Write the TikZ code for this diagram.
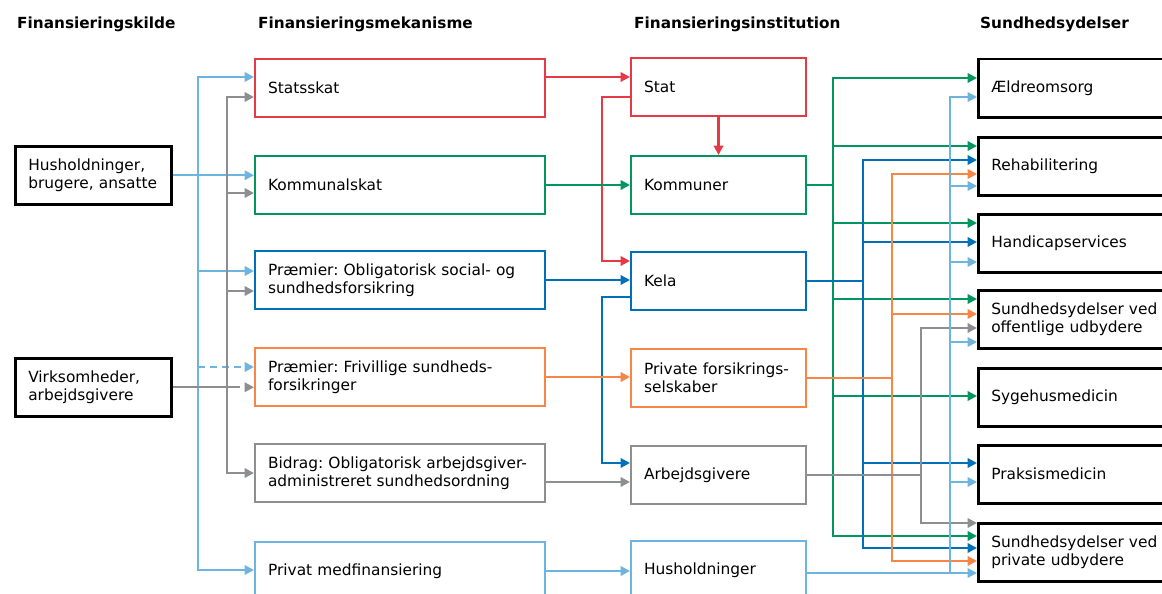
\documentclass[tikz,border=0pt]{standalone}
\usepackage{fontspec}
\setmainfont{DejaVu Sans}
\usetikzlibrary{arrows.meta}
\definecolor{cRed}{RGB}{230,57,70}
\definecolor{cGreen}{RGB}{0,150,94}
\definecolor{cBlue}{RGB}{0,112,184}
\definecolor{cOrange}{RGB}{246,133,70}
\definecolor{cGray}{RGB}{140,142,145}
\definecolor{cLight}{RGB}{110,180,225}
\newcommand\bodyfont{\fontsize{15.4}{17.7}\selectfont}
\newcommand\hdrfont{\fontsize{15.3}{17.7}\selectfont\bfseries}
\frenchspacing
\begin{document}
\begin{tikzpicture}[x=1pt,y=-1pt,
  box/.style={draw, rectangle, line width=2pt, anchor=north west, inner xsep=13pt, inner ysep=0pt,
    minimum height=58pt, align=left, font=\bodyfont},
  blackbox/.style={box, draw=black, line width=2.5pt},
  cA/.style={text width=130pt},
  cB/.style={text width=264pt},
  cC/.style={text width=149pt},
  cD/.style={text width=200pt},
  hdr/.style={anchor=base west, inner sep=0pt, font=\hdrfont},
  line/.style={line width=2.2pt},
  conn/.style={line width=2.2pt, -{Triangle[length=9.5pt,width=9.5pt]}},
  dsh/.style={dash pattern=on 7pt off 5pt}
]
\useasboundingbox (0,0) rectangle (1162,594);
\clip (0,0) rectangle (1162,594);

% headers
\node[hdr] (h1) at (17,29) {Finansieringskilde};
\node[hdr] (h2) at (258,29) {Finansieringsmekanisme};
\node[hdr] (h3) at (634,29) {Finansieringsinstitution};
\node[hdr] (h4) at (980,29) {Sundhedsydelser};

% column 1
\node[blackbox, cA] (hush) at (14,145) {\mbox{Husholdninger,}\\\mbox{brugere, ansatte}};
\node[blackbox, cA] (virk) at (14,357) {\mbox{Virksomheder,}\\\mbox{arbejdsgivere}};

% column 2
\node[box, cB, draw=cRed] (statsskat) at (254,58) {Statsskat};
\node[box, cB, draw=cGreen] (komskat) at (254,155) {Kommunalskat};
\node[box, cB, draw=cBlue] (praemob) at (254,250) {\mbox{Præmier: Obligatorisk social- og}\\\mbox{sundhedsforsikring}};
\node[box, cB, draw=cOrange] (praemfr) at (254,347) {\mbox{Præmier: Frivillige sundheds-}\\\mbox{forsikringer}};
\node[box, cB, draw=cGray] (bidrag) at (254,443) {\mbox{Bidrag: Obligatorisk arbejdsgiver-}\\\mbox{administreret sundhedsordning}};
\node[box, cB, draw=cLight] (privmed) at (254,541) {Privat medfinansiering};

% column 3
\node[box, cC, draw=cRed] (stat) at (630,57) {Stat};
\node[box, cC, draw=cGreen] (kommuner) at (630,155) {Kommuner};
\node[box, cC, draw=cBlue] (kela) at (630,251) {Kela};
\node[box, cC, draw=cOrange] (privfs) at (630,348) {\mbox{Private forsikrings-}\\\mbox{selskaber}};
\node[box, cC, draw=cGray] (arbg) at (630,445) {Arbejdsgivere};
\node[box, cC, draw=cLight] (hush2) at (630,540) {Husholdninger};

% column 4
\node[blackbox, cD] (aeld) at (977,58) {Ældreomsorg};
\node[blackbox, cD] (rehab) at (977,136) {Rehabilitering};
\node[blackbox, cD] (handi) at (977,213) {Handicapservices};
\node[blackbox, cD] (offud) at (977,289) {\mbox{Sundhedsydelser ved}\\\mbox{offentlige udbydere}};
\node[blackbox, cD] (sygeh) at (977,367) {Sygehusmedicin};
\node[blackbox, cD] (praks) at (977,444) {Praksismedicin};
\node[blackbox, cD] (privud) at (977,522) {\mbox{Sundhedsydelser ved}\\\mbox{private udbydere}};

% bus coordinates
\coordinate (lbL) at (198,0);
\coordinate (grL) at (227,0);
\coordinate (grL2) at (233,0);
\coordinate (midBus) at (602,0);
\coordinate (gR) at (833,0);
\coordinate (bR) at (863,0);
\coordinate (oR) at (892,0);
\coordinate (yR) at (921,0);
\coordinate (lR) at (950,0);

% left: light blue
\draw[conn,cLight] (lbL |- 0,570) |- (statsskat.west |- 0,77);
\draw[conn,cLight] (lbL |- 0,77) |- (privmed.west |- 0,570);
\draw[conn,cLight] (hush.east) -- (komskat.west |- hush.east);
\draw[conn,cLight] (lbL |- 0,271) -- (praemob.west |- 0,271);
\draw[conn,cLight,dsh] (lbL |- 0,367) -- (praemfr.west |- 0,367);

% left: gray
\draw[conn,cGray] (grL |- 0,473) |- (statsskat.west |- 0,97);
\draw[conn,cGray] (grL |- 0,97) |- (bidrag.west |- 0,473);
\draw[conn,cGray] (grL |- 0,193) -- (komskat.west |- 0,193);
\draw[conn,cGray] (grL |- 0,291) -- (praemob.west |- 0,291);
\draw[line,cGray] (virk.east) -- (grL2 |- virk.east);
\draw[conn,cGray,dsh] (grL2 |- virk.east) -- (praemfr.west |- virk.east);

% middle
\draw[conn,cRed] (statsskat.east |- 0,77) -- (stat.west |- 0,77);
\draw[conn,cRed] (stat.south) -- (kommuner.north);
\draw[conn,cRed] (stat.west |- 0,97) -| (midBus |- 0,261) -- (kela.west |- 0,261);
\draw[conn,cGreen] (komskat.east) -- (kommuner.west);
\draw[conn,cBlue] (praemob.east) -- (kela.west |- praemob.east);
\draw[conn,cBlue] (kela.west |- 0,297) -| (midBus |- 0,463) -- (arbg.west |- 0,463);
\draw[conn,cOrange] (praemfr.east) -- (privfs.west |- praemfr.east);
\draw[conn,cGray] (bidrag.east |- 0,482) -- (arbg.west |- 0,482);
\draw[conn,cLight] (privmed.east |- 0,571) -- (hush2.west |- 0,571);

% right: green
\draw[line,cGreen] (kommuner.east) -- (gR |- kommuner.east);
\draw[conn,cGreen] (gR |- 0,536) |- (aeld.west |- 0,78);
\draw[conn,cGreen] (gR |- 0,78) |- (privud.west |- 0,536);
\foreach \nd/\yy in {rehab/146, handi/223, offud/299, sygeh/396}
  \draw[conn,cGreen] (gR |- 0,\yy) -- (\nd.west |- 0,\yy);

% right: blue
\draw[line,cBlue] (kela.east) -- (bR |- kela.east);
\draw[conn,cBlue] (bR |- 0,548) |- (rehab.west |- 0,160);
\draw[conn,cBlue] (bR |- 0,160) |- (privud.west |- 0,548);
\foreach \nd/\yy in {handi/242, praks/463}
  \draw[conn,cBlue] (bR |- 0,\yy) -- (\nd.west |- 0,\yy);

% right: orange
\draw[line,cOrange] (privfs.east) -- (oR |- privfs.east);
\draw[conn,cOrange] (oR |- 0,561) |- (rehab.west |- 0,174);
\draw[conn,cOrange] (oR |- 0,174) |- (privud.west |- 0,561);
\draw[conn,cOrange] (oR |- 0,314) -- (offud.west |- 0,314);

% right: gray
\draw[line,cGray] (arbg.east) -- (yR |- arbg.east);
\draw[conn,cGray] (yR |- 0,523) |- (offud.west |- 0,328);
\draw[conn,cGray] (yR |- 0,328) |- (privud.west |- 0,523);

% right: light blue
\draw[conn,cLight] (hush2.east |- 0,573) -- (privud.west |- 0,573);
\draw[conn,cLight] (lR |- 0,573) |- (aeld.west |- 0,97);
\foreach \nd/\yy in {rehab/186, handi/262, offud/342, praks/482}
  \draw[conn,cLight] (lR |- 0,\yy) -- (\nd.west |- 0,\yy);
\end{tikzpicture}
\end{document}
